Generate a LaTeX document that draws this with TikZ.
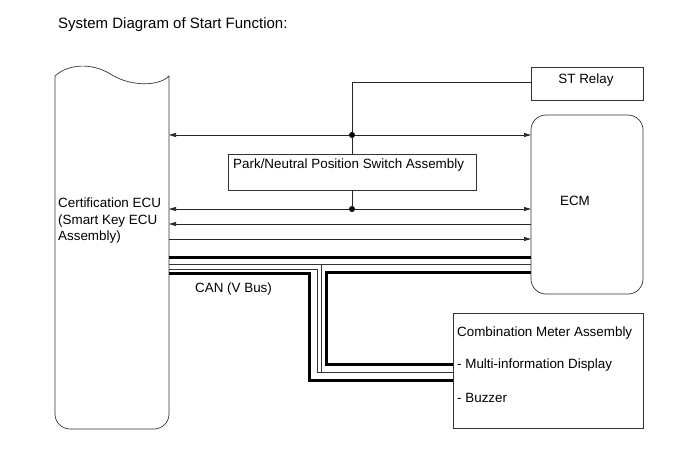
\documentclass[tikz,border=0pt]{standalone}
\usepackage{fontspec}
\setmainfont{Liberation Sans}
\usetikzlibrary{arrows.meta}
\begin{document}
\begin{tikzpicture}[x=1pt,y=-1pt,
  wire/.style={line width=0.7pt,draw=black!85},
  box/.style={line width=0.7pt,draw=black!80},
  lbl/.style={font=\fontsize{13.4}{16.5}\selectfont,inner sep=0pt,anchor=west},
  arr/.style={-{Triangle[length=7pt,width=4pt]}},
  dot/.style={circle,fill=black,inner sep=0pt,minimum size=6pt},
  can/.style={line width=3pt},
  canthin/.style={line width=0.7pt,draw=black!80}]
\useasboundingbox (0,0) rectangle (691,465);
\node[font=\fontsize{15}{18}\selectfont,inner sep=0pt,anchor=base west] (title) at (58,29) {System Diagram of Start Function:};
% Certification ECU
\draw[box] (55,76) .. controls (68,64) and (92,62) .. (112,75)
  .. controls (132,87) and (160,86) .. (169,76)
  -- (169,414) arc[start angle=0,end angle=90,radius=15] -- (70,429)
  arc[start angle=90,end angle=180,radius=15] -- cycle;
\node[lbl,align=left,anchor=north west] (ecu) at (58,198) {Certification ECU\\(Smart Key ECU\\Assembly)};
% ECM
\draw[box,rounded corners=15pt] (531,115) rectangle (643,294);
\node[lbl,anchor=center] (ecm) at (575,201) {ECM};
% ST relay
\draw[box] (531,67) rectangle (643,100);
\node[lbl,anchor=center] (st) at (586,80) {ST Relay};
% Park box
\draw[box] (228,154) rectangle (476,190);
\node[lbl] (park) at (233,165) {Park/Neutral Position Switch Assembly};
% Meter
\draw[box] (453,313) rectangle (643,428);
\node[lbl] (m1) at (457,333) {Combination Meter Assembly};
\node[lbl] (m2) at (457,365) {- Multi-information Display};
\node[lbl] (m3) at (457,398) {- Buzzer};
\node[lbl] (can) at (195,289) {CAN (V Bus)};
% junctions
\node[dot] (j1) at (352,135) {};
\node[dot] (j2) at (352,209) {};
\draw[wire,arr] (j1) -- (169,135);
\draw[wire,arr] (j1) -- (531,135);
\draw[wire] (j1) -- (352,82) -- (531,82);
\draw[wire] (j1) -- (352,154);
\draw[wire] (j2) -- (352,190);
\draw[wire,arr] (j2) -- (169,209);
\draw[wire,arr] (j2) -- (531,209);
\draw[wire,arr] (531,224) -- (169,224);
\draw[wire,arr] (169,239) -- (531,239);
% CAN bus
\draw[can] (169,258) -- (531,258);
\draw[canthin] (169,264) -- (531,264);
\draw[canthin] (321.5,264) -- (321.5,372);
\draw[canthin] (169,269) -- (317,269) -- (317,372) -- (453,372);
\draw[can] (169,274) -- (309,274) -- (309,380) -- (453,380);
\draw[can] (531,273) -- (326,273) -- (326,364) -- (453,364);
\end{tikzpicture}
\end{document}
